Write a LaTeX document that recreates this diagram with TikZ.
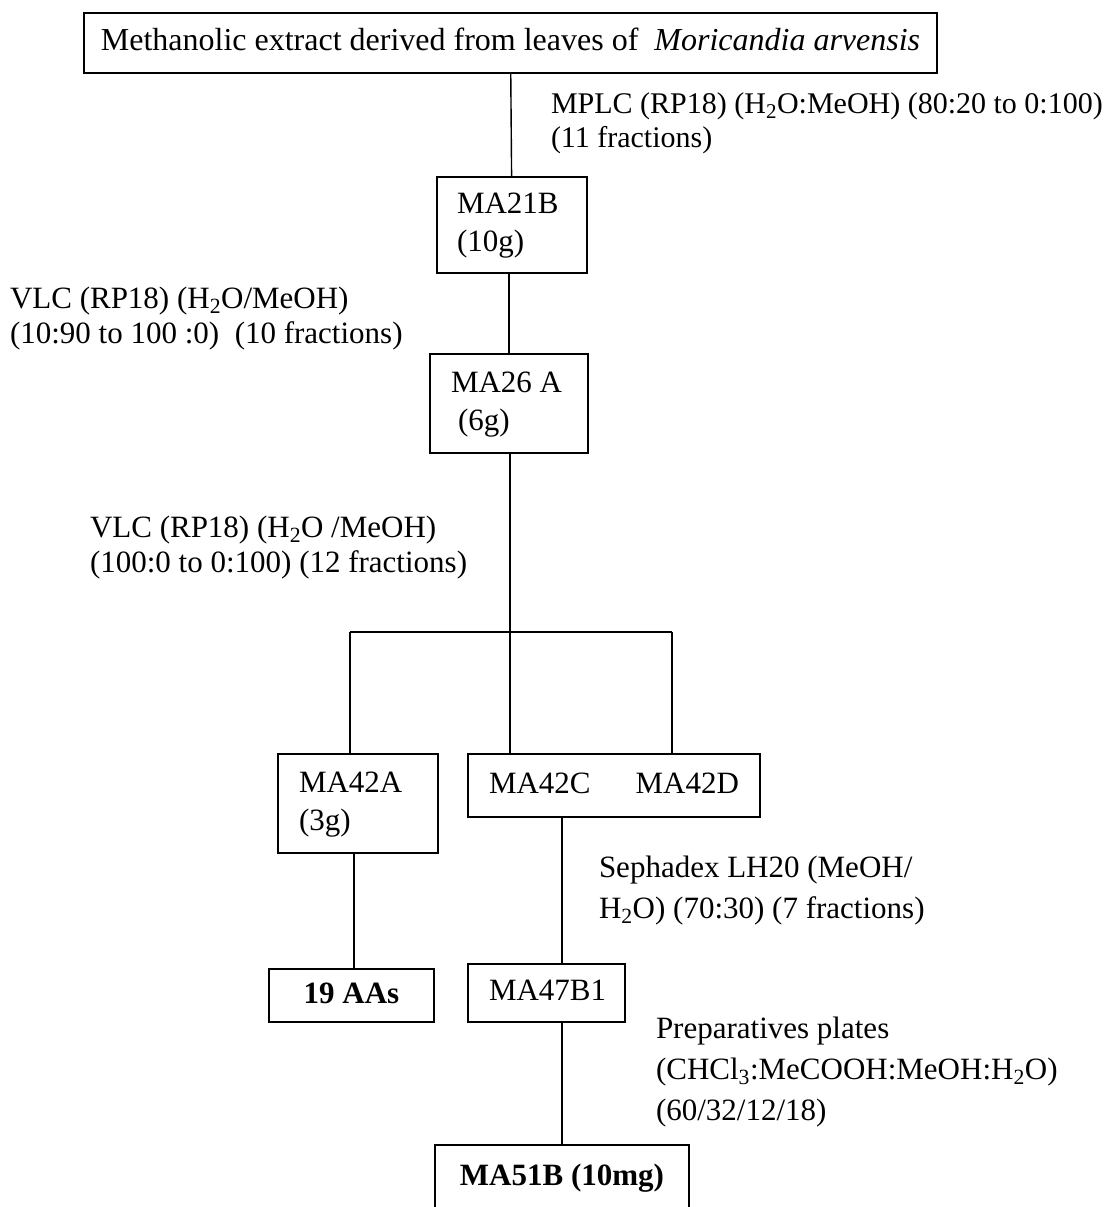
\documentclass[tikz,border=0pt]{standalone}
\usepackage{fontspec}
\setmainfont{Liberation Serif}
\newcommand\rows[1]{\begin{tabular}[t]{@{}l@{}}#1\end{tabular}}
\tikzset{
  box/.style={draw=black, line width=1.8pt, inner sep=0pt, outer sep=0pt, anchor=north west, font=\fontsize{31}{38}\selectfont},
  lbl/.style={inner sep=0pt, outer sep=0pt, anchor=base west, font=\fontsize{31}{35}\selectfont},
  link/.style={draw=black, line width=1.4pt},
}
\begin{document}
\begin{tikzpicture}[x=1pt, y=-1pt]
\useasboundingbox (0,0) rectangle (1106,1207);
\fill[white] (0,0) rectangle (1106,1207);
\clip (0,0) rectangle (1106,1207);

% boxes
\node[box, minimum height=60pt, font=\fontsize{32}{38}\selectfont] (top) at (84,13)
  {\makebox[853pt][c]{\strut Methanolic extract derived from leaves of\ \ \textit{Moricandia arvensis}}};
\node[box, minimum height=96pt] (ma21) at (437,177)
  {\makebox[150pt][l]{\hspace{20pt}\rows{MA21B\\(10g)}}};
\node[box, minimum height=99pt] (ma26) at (430,354)
  {\makebox[158pt][l]{\hspace{21pt}\rows{MA26 A\\\hspace{7pt}(6g)}}};
\node[box, minimum height=99pt] (ma42a) at (278,754)
  {\makebox[160pt][l]{\hspace{21pt}\rows{MA42A\\(3g)}}};
\node[box, minimum height=63pt] (ma42cd) at (468,754)
  {\makebox[292pt][l]{\hspace{21pt}\rows{MA42C\hspace{45pt}MA42D}}};
\node[box, minimum height=53pt] (aas) at (269,969)
  {\makebox[165pt][c]{\rows{\bfseries 19 AAs}}};
\node[box, minimum height=58pt] (ma47) at (468,964)
  {\makebox[157pt][l]{\hspace{21pt}\rows{MA47B1}}};
\node[box, minimum height=65pt] (ma51) at (435,1145)
  {\makebox[254pt][c]{\rows{\bfseries MA51B (10mg)}}};

% labels
\node[lbl, font=\fontsize{30}{34}\selectfont] (mplc) at (551,113)
  {\rows{MPLC (RP18) (H\textsubscript{2}O:MeOH) (80:20 to 0:100)\\(11 fractions)}};
\node[lbl] (vlc1) at (10,308)
  {\rows{VLC (RP18) (H\textsubscript{2}O/MeOH)\\(10:90 to 100 :0)\ \ (10 fractions)}};
\node[lbl] (vlc2) at (90,537)
  {\rows{VLC (RP18) (H\textsubscript{2}O /MeOH)\\(100:0 to 0:100) (12 fractions)}};
\node[lbl, font=\fontsize{31}{41}\selectfont] (seph) at (599,877)
  {\rows{Sephadex LH20 (MeOH/\\H\textsubscript{2}O) (70:30) (7 fractions)}};
\node[lbl, font=\fontsize{31}{41}\selectfont] (prep) at (656,1038)
  {\rows{Preparatives plates\\(CHCl\textsubscript{3}:MeCOOH:MeOH:H\textsubscript{2}O)\\(60/32/12/18)}};

% connectors
\coordinate (x1) at (509,0);
\coordinate (xb) at (510,632);
\coordinate (xl) at (350,632);
\coordinate (xr) at (672,632);
\coordinate (xa) at (354,0);
\coordinate (xc) at (562,0);
\draw[link] (top) -- (ma21);
\draw[link] (ma21.south -| x1) -- (ma26.north -| x1);
\draw[link] (ma26.south -| xb) -- (xb);
\draw[link] (xl) -- (xr);
\draw[link] (xl) -- (ma42a.north -| xl);
\draw[link] (xb) -- (ma42cd.north -| xb);
\draw[link] (xr) -- (ma42cd.north -| xr);
\draw[link] (ma42a.south -| xa) -- (aas.north -| xa);
\draw[link] (ma42cd.south -| xc) -- (ma47.north -| xc);
\draw[link] (ma47.south -| xc) -- (ma51.north -| xc);
\end{tikzpicture}
\end{document}
